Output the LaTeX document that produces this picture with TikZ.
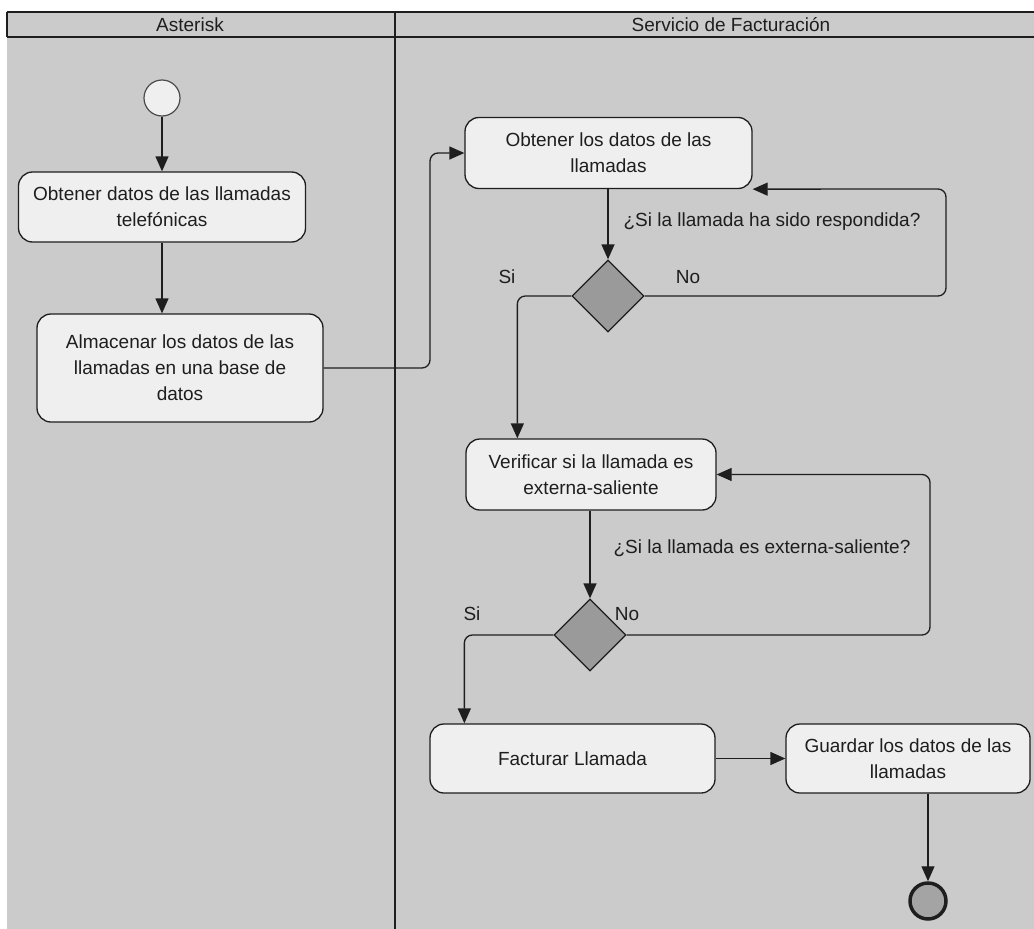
\documentclass[tikz,border=0pt]{standalone}
\usepackage{fontspec}
\setmainfont{Liberation Sans}
\usetikzlibrary{arrows.meta,shapes.geometric}
\definecolor{lanegray}{HTML}{CBCBCB}
\definecolor{actfill}{HTML}{EFEFEF}
\definecolor{decfill}{HTML}{9A9A9A}
\definecolor{endfill}{HTML}{A4A4A4}
\definecolor{inkgray}{HTML}{1E1E1E}
\newcommand{\diagfont}{\fontsize{19}{26}\selectfont}
\begin{document}
\begin{tikzpicture}[x=1pt,y=-1pt,>={Triangle[length=15pt,width=13pt]},
    activity/.style={draw=inkgray,line width=1.3pt,fill=actfill,rounded corners=14pt,
      align=center,font=\diagfont,text=inkgray,inner sep=0pt},
    decision/.style={diamond,draw=inkgray,line width=1.3pt,fill=decfill,
      minimum width=72pt,minimum height=72pt,inner sep=0pt},
    flow/.style={->,line width=1.3pt,draw=inkgray,rounded corners=8pt},
    guard/.style={font=\diagfont,text=inkgray,inner sep=0pt}]
  \useasboundingbox (0,0) rectangle (1034,929);
  % swimlanes
  \fill[lanegray] (7,12) rectangle (1034,929);
  \draw[line width=1.5pt,inkgray] (7,12) -- (1034,12) (7,37) -- (1034,37) (7,12) -- (7,37);
  \draw[line width=1.5pt,inkgray] (395,12) -- (395,929);
  \node[guard] (laneA) at (190,25) {Asterisk};
  \node[guard] (laneB) at (731,25) {Servicio de Facturación};

  % Asterisk
  \node[circle,draw=inkgray!80,line width=1.2pt,fill=actfill,minimum size=36pt,inner sep=0pt] (start) at (162,98) {};
  \node[activity,minimum width=287pt,minimum height=70pt] (a1) at (162,207)
    {Obtener datos de las llamadas\\telefónicas};
  \node[activity,minimum width=286pt,minimum height=108pt] (a2) at (180,368)
    {Almacenar los datos de las\\llamadas en una base de\\datos};

  % Servicio de Facturacion
  \node[activity,minimum width=287pt,minimum height=71pt] (b1) at (608.5,153)
    {Obtener los datos de las\\llamadas};
  \node[decision] (d1) at (608,296) {};
  \node[activity,minimum width=250pt,minimum height=71pt] (b2) at (591,474.5)
    {Verificar si la llamada es\\externa-saliente};
  \node[decision] (d2) at (590,635) {};
  \node[activity,minimum width=285pt,minimum height=69pt] (b3) at (572.5,758.5)
    {Facturar Llamada};
  \node[activity,minimum width=244pt,minimum height=69pt] (b4) at (908,758.5)
    {Guardar los datos de las\\llamadas};
  \node[circle,draw=inkgray,line width=3.5pt,fill=endfill,minimum size=36pt,inner sep=0pt] (end) at (928,901) {};

  \coordinate (j1) at (430,0);
  \coordinate (r1) at (946,189);
  \coordinate (r2) at (930,474.5);

  \draw[flow] (start) -- (a1);
  \draw[flow] (a1.south) -- (a1.south |- a2.north);
  \draw[flow] (a2.east) -- (j1 |- a2.east) |- (b1.west);
  \draw[flow] (d1.north |- b1.south) -- (d1.north);
  \draw[flow] (d1.east) -| (r1) -- (b1.south east);
  \draw[flow] (d1.west) -| ([xshift=52pt]b2.north west);
  \draw[flow] (d2.north |- b2.south) -- (d2.north);
  \draw[flow] (d2.east) -| (r2) -- (b2.east);
  \draw[flow] (d2.west) -| ([xshift=35pt]b3.north west);
  \draw[flow] (b3.east) -- (b4.west);
  \draw[flow] (end.north |- b4.south) -- (end.north);

  % guards
  \node[guard] (q1) at (772,222) {¿Si la llamada ha sido respondida?};
  \node[guard] (si1) at (507,277) {Si};
  \node[guard] (no1) at (688,277) {No};
  \node[guard] (q2) at (762,548) {¿Si la llamada es externa-saliente?};
  \node[guard] (si2) at (472,614) {Si};
  \node[guard] (no2) at (627,614) {No};
\end{tikzpicture}
\end{document}
